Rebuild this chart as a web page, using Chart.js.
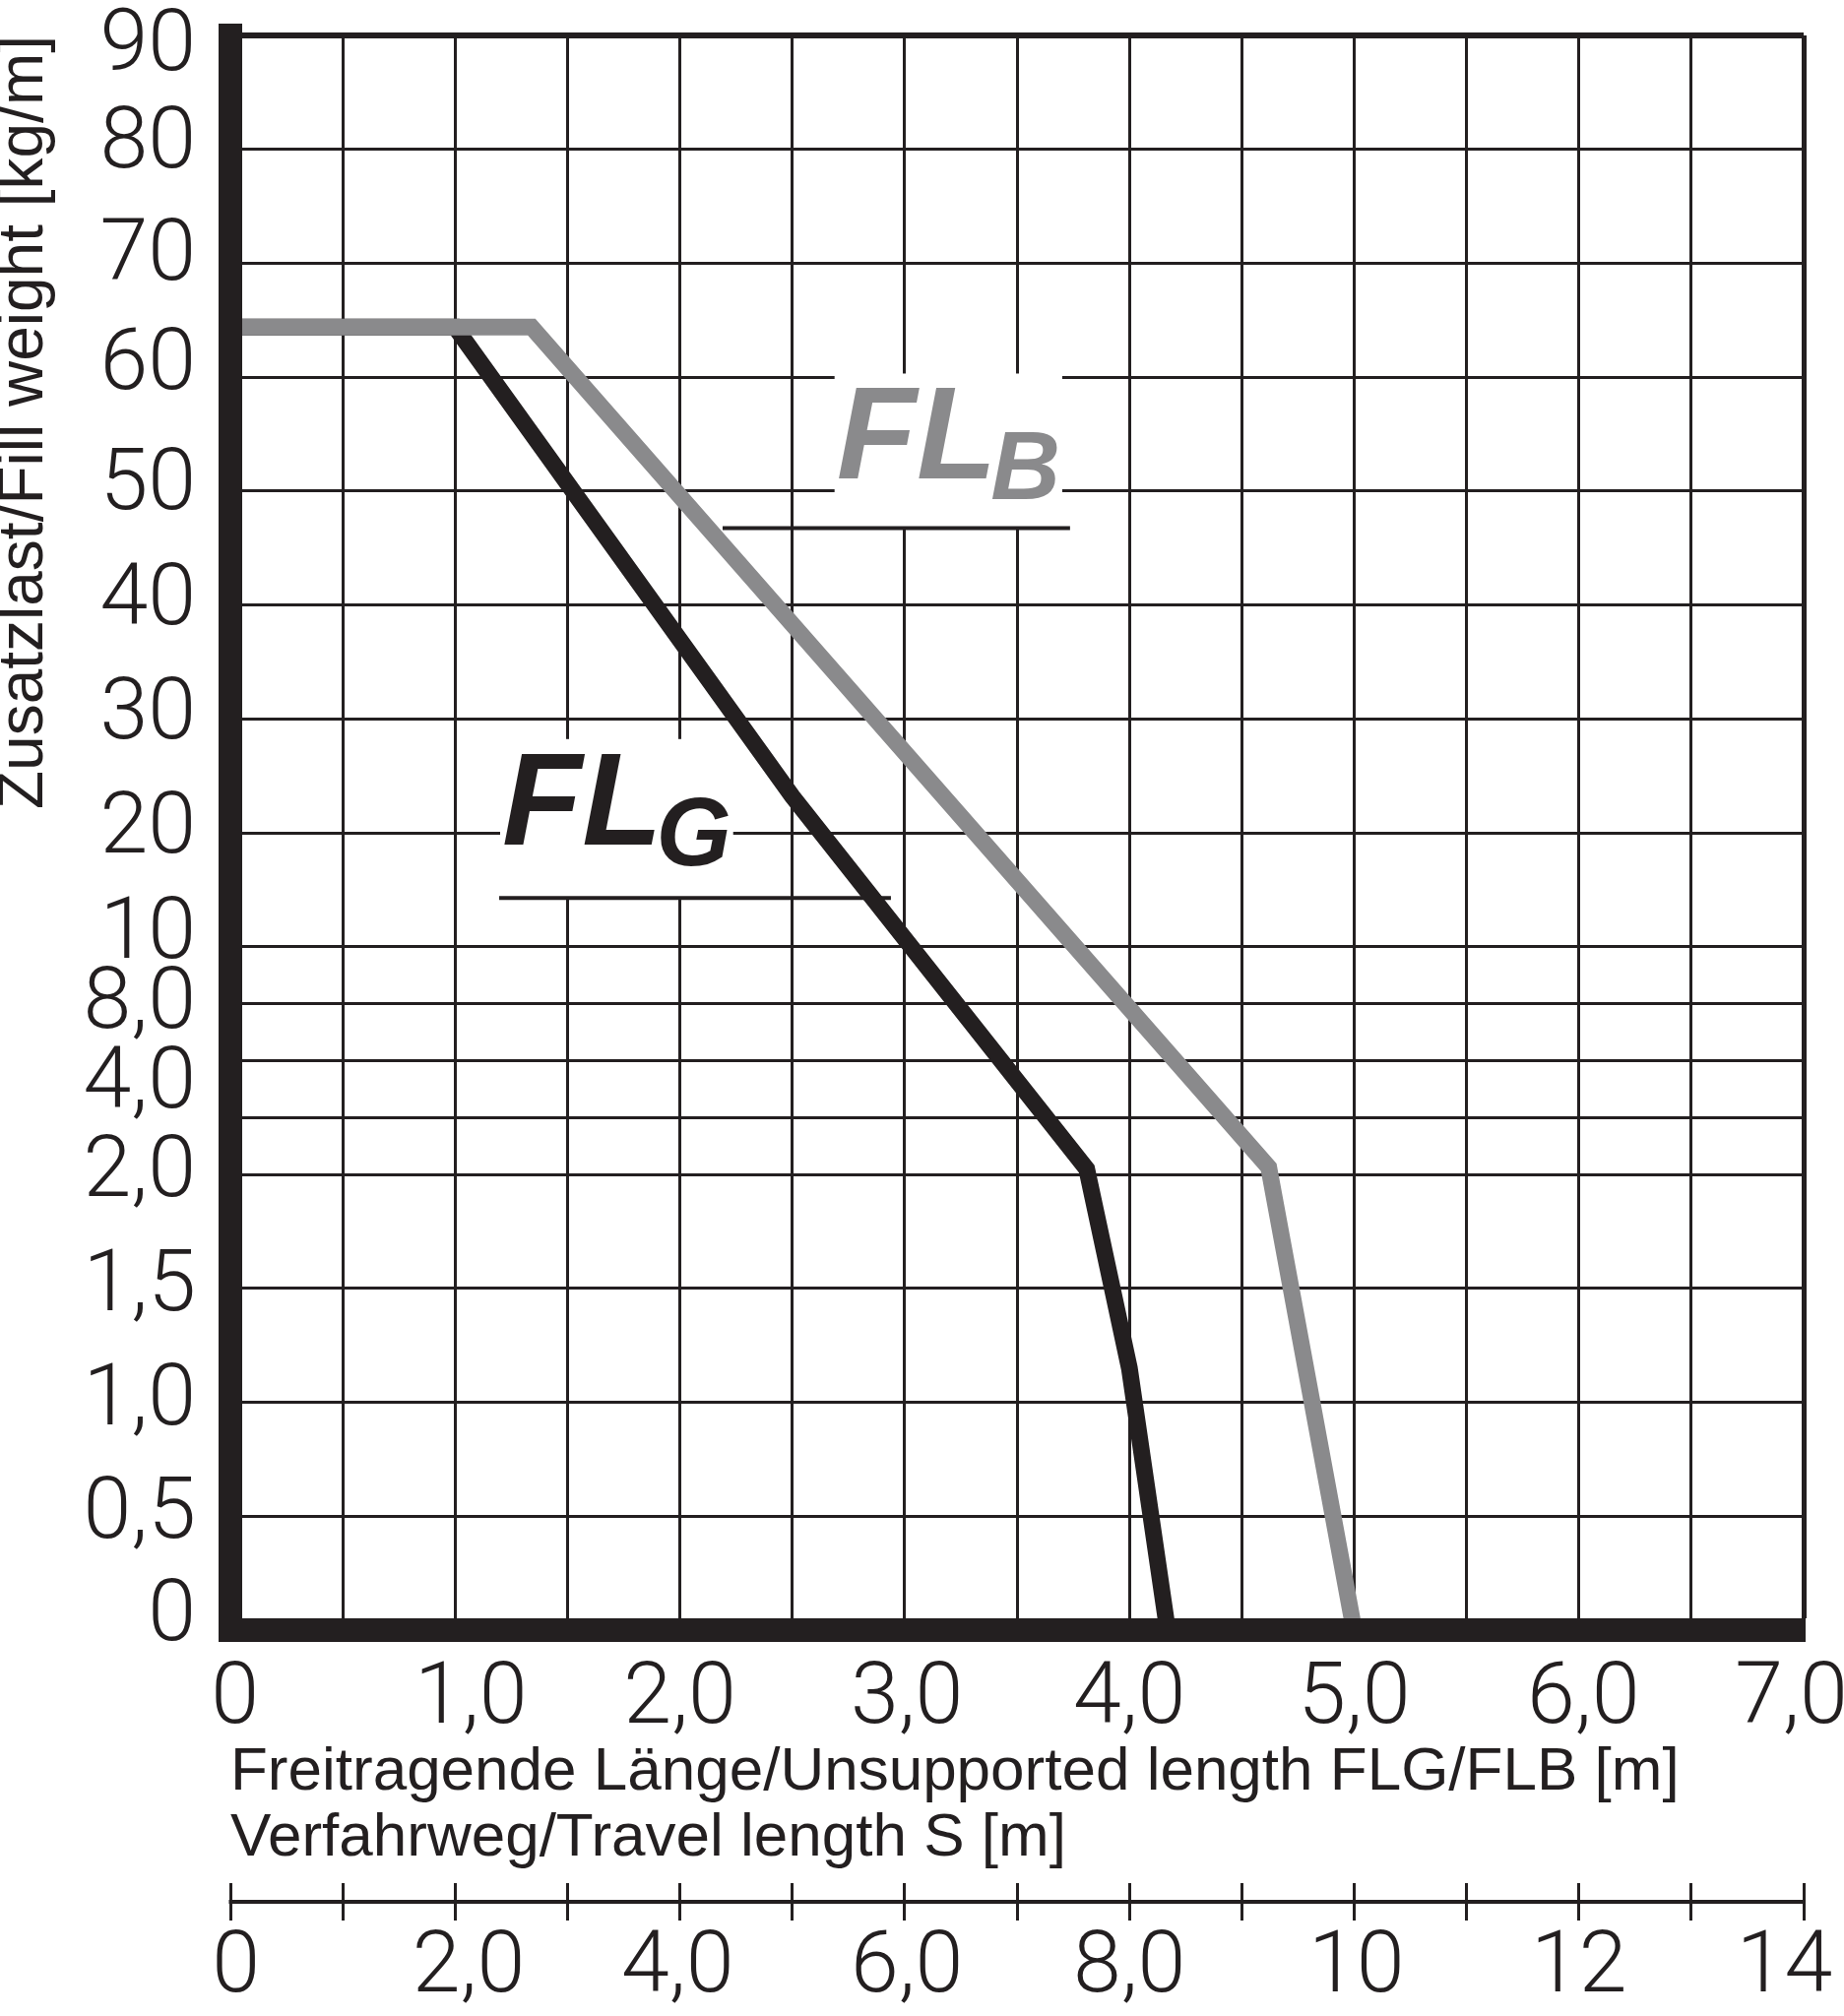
<!DOCTYPE html>
<html>
<head>
<meta charset="utf-8">
<script src="https://cdn.jsdelivr.net/npm/chart.js@4.4.1/dist/chart.umd.min.js"></script>
<style>
  html, body { margin: 0; padding: 0; background: #ffffff; }
  canvas { display: block; }
</style>
</head>
<body>
<canvas id="c" width="1873" height="2048"></canvas>
<script>
// ---------------- data ----------------
const SERIES_NAMES = ['FLB', 'FLG'];
// FL_B (grey): unsupported length [m] vs fill weight [kg/m]
const FLB_LENGTH = [0, 1.34, 4.62, 5.0];
const FLB_LOAD   = [64.4, 64.4, 2.25, 0];
// FL_G (black)
const FLG_LENGTH = [0, 1.0, 2.5, 3.81, 4.0, 4.17];
const FLG_LOAD   = [64.4, 64.4, 23.2, 2.2, 1.15, 0];

// y axis (non-linear, hand-made scale): grid lines and label texts / where each label sits
const Y_GRID_VALUES = [0, 0.5, 1, 1.5, 2, 4, 6, 8, 10, 20, 30, 40, 50, 60, 70, 80, 90];
const Y_LABEL_TEXTS = ['0', '0,5', '1,0', '1,5', '2,0', '4,0', '8,0', '10', '20', '30', '40', '50', '60', '70', '80', '90'];
const Y_LABEL_AT    = [0.05, 0.5, 1, 1.5, 2, 5.1, 7.9, 10.95, 20.2, 30.2, 40.2, 50.3, 60.9, 70.5, 80.3, 88.9];
// piecewise axis segments: value breakpoints and their share of the axis
const Y_SEGMENT_VALUES = [0, 2, 10, 90];
const Y_SEGMENT_UNITS  = [0, 4, 6, 14];

// x axis: unsupported length FLG/FLB [m]
const X_GRID_VALUES = [0, 0.5, 1, 1.5, 2, 2.5, 3, 3.5, 4, 4.5, 5, 5.5, 6, 6.5, 7];
const X_LABEL_TEXTS = ['0', '1,0', '2,0', '3,0', '4,0', '5,0', '6,0', '7,0'];
const X_LABEL_AT    = [0.02, 1.07, 2.0, 3.01, 4.0, 5.0, 6.02, 6.945];

// second x axis: travel length S [m]
const S_GRID_VALUES = [0, 1, 2, 3, 4, 5, 6, 7, 8, 9, 10, 11, 12, 13, 14];
const S_LABEL_TEXTS = ['0', '2,0', '4,0', '6,0', '8,0', '10', '12', '14'];
const S_LABEL_AT    = [0.05, 2.12, 3.98, 6.02, 8.0, 10.02, 12.0, 13.83];

const X_TITLE = ['Freitragende Länge/Unsupported length FLG/FLB [m]', 'Verfahrweg/Travel length S [m]'];
const Y_TITLE = 'Zusatzlast/Fill weight [kg/m]';

// curve name labels (anchored in data units)
const CURVE_LABEL_MAIN = ['FL', 'FL'];
const CURVE_LABEL_SUB  = ['B', 'G'];
const CURVE_LABEL_X    = [2.697, 1.209];
const CURVE_LABEL_Y    = [51.07, 18.98];
const UNDERLINE_FROM   = [2.19, 1.196];
const UNDERLINE_TO     = [3.736, 2.939];
const UNDERLINE_Y      = [46.75, 14.27];

// ---------------- styles ----------------
const INK = '#231f20';
const GREY = '#8a8a8c';
const SERIES_COLORS = [GREY, INK];
const NONE = 'rgba(0,0,0,0)';

// ---------------- helpers ----------------
// merge grid-line ticks and label-only ticks into one sorted tick list
function mergeTicks(gridVals, labelAt, labelTexts) {
  const list = gridVals.map(v => ({ value: v, gridLine: true, text: '' }));
  labelAt.forEach((v, i) => {
    const hit = list.find(t => Math.abs(t.value - v) < 1e-9);
    if (hit) hit.text = labelTexts[i];
    else list.push({ value: v, gridLine: false, text: labelTexts[i] });
  });
  return list.sort((a, b) => a.value - b.value);
}
const tickText = (v, i, ticks) => ticks[i].text;
const isGrid = (c) => c.tick && c.tick.gridLine;

// ---------------- custom segmented scale ----------------
const UMAX = Y_SEGMENT_UNITS[Y_SEGMENT_UNITS.length - 1];
class SegmentedScale extends Chart.LinearScale {
  static id = 'segmented';
  static defaults = {};
  _toUnit(v) {
    const V = Y_SEGMENT_VALUES, U = Y_SEGMENT_UNITS;
    if (v <= V[0]) return U[0];
    for (let i = 1; i < V.length; i++) {
      if (v <= V[i]) return U[i - 1] + (v - V[i - 1]) / (V[i] - V[i - 1]) * (U[i] - U[i - 1]);
    }
    const n = V.length - 1;
    return U[n] + (v - V[n]) / (V[n] - V[n - 1]) * (U[n] - U[n - 1]);
  }
  _fromUnit(u) {
    const V = Y_SEGMENT_VALUES, U = Y_SEGMENT_UNITS;
    if (u <= U[0]) return V[0];
    for (let i = 1; i < U.length; i++) {
      if (u <= U[i]) return V[i - 1] + (u - U[i - 1]) / (U[i] - U[i - 1]) * (V[i] - V[i - 1]);
    }
    const n = U.length - 1;
    return V[n] + (u - U[n]) / (U[n] - U[n - 1]) * (V[n] - V[n - 1]);
  }
  getPixelForValue(value) {
    return this.getPixelForDecimal(this._toUnit(value) / UMAX);
  }
  getValueForPixel(pixel) {
    return this._fromUnit(this.getDecimalForPixel(pixel) * UMAX);
  }
}
Chart.register(SegmentedScale);

// ---------------- plugins ----------------
const curveLabels = {
  id: 'curveLabels',
  beforeDatasetsDraw(chart) {
    const { ctx, scales: { x, y } } = chart;
    ctx.save();
    for (let i = 0; i < CURVE_LABEL_MAIN.length; i++) {
      const px = x.getPixelForValue(CURVE_LABEL_X[i]);
      const py = y.getPixelForValue(CURVE_LABEL_Y[i]);
      const uy = y.getPixelForValue(UNDERLINE_Y[i]);
      const bigFont = 'italic bold 133px "Liberation Sans", Arial, sans-serif';
      const subFont = 'italic bold 98px "Liberation Sans", Arial, sans-serif';
      ctx.font = bigFont;
      const w1 = ctx.measureText(CURVE_LABEL_MAIN[i]).width;
      ctx.font = subFont;
      const w2 = ctx.measureText(CURVE_LABEL_SUB[i]).width;
      const subX = px + w1 - 6;
      // white mask behind the label
      ctx.fillStyle = '#ffffff';
      const top = py - 107;
      ctx.fillRect(px - 2, top, (subX + w2 + 2) - (px - 2), uy - top);
      // text
      ctx.fillStyle = SERIES_COLORS[i];
      ctx.textBaseline = 'alphabetic';
      ctx.textAlign = 'left';
      ctx.font = bigFont;
      ctx.fillText(CURVE_LABEL_MAIN[i], px, py);
      ctx.font = subFont;
      ctx.fillText(CURVE_LABEL_SUB[i], subX, py + 21);
      // underline
      ctx.strokeStyle = INK;
      ctx.lineWidth = 4;
      ctx.beginPath();
      ctx.moveTo(x.getPixelForValue(UNDERLINE_FROM[i]), uy);
      ctx.lineTo(x.getPixelForValue(UNDERLINE_TO[i]), uy);
      ctx.stroke();
    }
    ctx.restore();
  }
};

const sAxisLine = {
  id: 'sAxisLine',
  afterDraw(chart) {
    const s = chart.scales.x2;
    const ctx = chart.ctx;
    const yy = s.top + s.options.grid.tickLength / 2;
    ctx.save();
    ctx.strokeStyle = INK;
    ctx.lineWidth = 4;
    ctx.beginPath();
    ctx.moveTo(s.left - 1.5, yy);
    ctx.lineTo(s.right + 1.5, yy);
    ctx.stroke();
    ctx.restore();
  }
};

// ---------------- chart ----------------
const tickFont = { family: 'Roboto, "Liberation Sans", sans-serif', weight: 300, size: 88, lineHeight: 1 };
const titleFamily = '"Liberation Sans", Arial, sans-serif';

function zip(xs, ys) { return xs.map((v, i) => ({ x: v, y: ys[i] })); }

new Chart(document.getElementById('c'), {
  type: 'line',
  data: {
    datasets: [
      { label: SERIES_NAMES[0], data: zip(FLB_LENGTH, FLB_LOAD), borderColor: SERIES_COLORS[0], borderWidth: 17,
        pointRadius: 0, tension: 0, borderJoinStyle: 'miter', borderCapStyle: 'butt', fill: false },
      { label: SERIES_NAMES[1], data: zip(FLG_LENGTH, FLG_LOAD), borderColor: SERIES_COLORS[1], borderWidth: 17,
        pointRadius: 0, tension: 0, borderJoinStyle: 'miter', borderCapStyle: 'butt', fill: false }
    ]
  },
  options: {
    responsive: false,
    devicePixelRatio: 1,
    animation: false,
    layout: { padding: { left: 0, right: 41, top: 36, bottom: 0 } },
    plugins: { legend: { display: false }, tooltip: { enabled: false } },
    scales: {
      x: {
        type: 'linear', position: 'bottom', weight: 0, min: 0, max: 7,
        afterFit(s) { s.height = 257; s.paddingLeft = 0; s.paddingRight = 0; },
        afterBuildTicks(s) { s.ticks = mergeTicks(X_GRID_VALUES, X_LABEL_AT, X_LABEL_TEXTS); },
        ticks: {
          autoSkip: false, maxRotation: 0, minRotation: 0,
          padding: 28, font: tickFont, color: INK, callback: tickText
        },
        grid: {
          color: (c) => (isGrid(c) ? INK : NONE),
          lineWidth: (c) => (c.tick && c.tick.value === 7 ? 5 : 3),
          drawTicks: false
        },
        border: { display: true, width: 24, color: INK, z: 1 },
        title: { display: true, text: X_TITLE, align: 'start', color: INK,
          font: { family: titleFamily, size: 62, lineHeight: 1.08 }, padding: { top: 0, bottom: 12 } }
      },
      x2: {
        type: 'linear', position: 'bottom', weight: 1, min: 0, max: 14,
        afterFit(s) { s.height = 135; s.paddingLeft = 0; s.paddingRight = 0; },
        afterBuildTicks(s) { s.ticks = mergeTicks(S_GRID_VALUES, S_LABEL_AT, S_LABEL_TEXTS); },
        ticks: {
          autoSkip: false, maxRotation: 0, minRotation: 0,
          padding: 6, font: tickFont, color: INK, callback: tickText
        },
        grid: {
          drawOnChartArea: false, drawTicks: true, tickLength: 38,
          color: (c) => (isGrid(c) ? INK : NONE), lineWidth: 3
        },
        border: { display: false }
      },
      y: {
        type: 'segmented', position: 'left', min: 0, max: 90,
        afterFit(s) { s.width = 234; s.paddingTop = 0; s.paddingBottom = 0; },
        afterBuildTicks(s) { s.ticks = mergeTicks(Y_GRID_VALUES, Y_LABEL_AT, Y_LABEL_TEXTS); },
        ticks: {
          autoSkip: false, padding: 35, font: tickFont, color: INK, callback: tickText
        },
        grid: {
          color: (c) => (isGrid(c) ? INK : NONE),
          lineWidth: (c) => (c.tick && c.tick.value === 90 ? 6 : 3),
          drawTicks: false
        },
        border: { display: true, width: 24, color: INK, z: 1 },
        title: { display: true, text: Y_TITLE, align: 'end', color: INK,
          font: { family: titleFamily, size: 64, lineHeight: 0.78 }, padding: { top: 0, bottom: 0 } }
      }
    }
  },
  plugins: [curveLabels, sAxisLine]
});
</script>
</body>
</html>
